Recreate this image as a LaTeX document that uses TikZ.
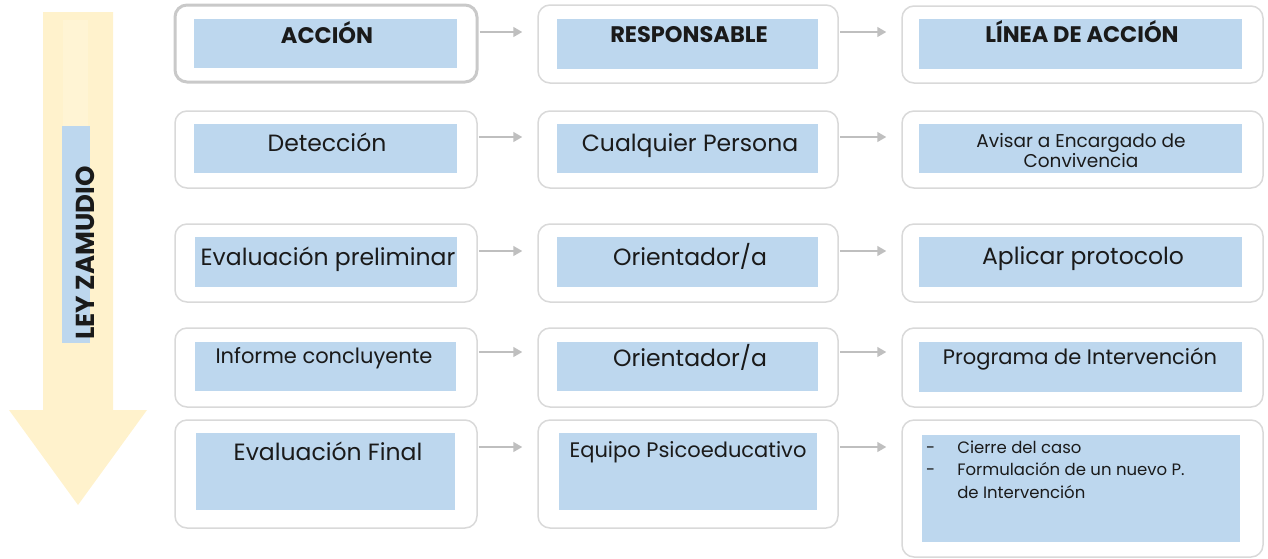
\documentclass[tikz,border=0pt]{standalone}
\usepackage{fontspec}
\setmainfont{Poppins}
\usetikzlibrary{fit,arrows.meta}
\definecolor{bluef}{HTML}{BDD7EE}
\definecolor{yelarr}{HTML}{FFF2CC}
\definecolor{yelstripe}{HTML}{FFF4D4}
\definecolor{boxgray}{HTML}{D9D9D9}
\definecolor{headgray}{HTML}{C9C9C9}
\definecolor{arrgray}{HTML}{BFBFBF}
\definecolor{txtc}{HTML}{1A1A1A}
\tikzset{
  outerbox/.style={draw=boxgray, line width=1.5pt, rounded corners=12pt, fill=white, inner sep=0pt},
  headbox/.style={outerbox, draw=headgray, line width=3pt},
  fillbox/.style={fill=bluef, inner sep=0pt},
  txt/.style={inner sep=0pt, text=txtc, align=center, anchor=base},
  big/.style={txt, font=\fontsize{23.5}{26}\selectfont},
  mid/.style={txt, font=\fontsize{21}{24}\selectfont},
  small/.style={txt, font=\fontsize{18.5}{20}\selectfont},
  list/.style={txt, font=\fontsize{16.5}{22.5}\selectfont},
  head/.style={txt, font=\fontsize{22.5}{26}\selectfont\bfseries},
  conn/.style={draw=arrgray, line width=1.5pt, shorten <=1pt, shorten >=15pt, -{Triangle[length=9pt,width=10pt]}},
}
\begin{document}
\begin{tikzpicture}[x=1pt,y=-1pt]
\useasboundingbox (0,0) rectangle (1268,558);

% big yellow arrow
\fill[yelarr] (43,12) -- (113,12) -- (113,410) -- (147,410) -- (78,505) -- (9,410) -- (43,410) -- cycle;
\fill[yelstripe] (63,20) rectangle (88,126);
\node[fillbox, fit={(62,126) (90,343)}] (lz) {};
\node[txt, rotate=90, font=\fontsize{26}{28}\selectfont\bfseries] (lzt) at (94,253) {LEY ZAMUDIO};

% outer boxes
\node[headbox,  fit={(175,5) (477,82)}] (o11) {};
\node[outerbox, fit={(538,5) (838,83)}] (o12) {};
\node[outerbox, fit={(902,6) (1263,83)}] (o13) {};
\node[outerbox, fit={(175,111) (477,188)}] (o21) {};
\node[outerbox, fit={(538,111) (838,188)}] (o22) {};
\node[outerbox, fit={(902,111) (1263,188)}] (o23) {};
\node[outerbox, fit={(175,224) (477,302)}] (o31) {};
\node[outerbox, fit={(538,224) (838,302)}] (o32) {};
\node[outerbox, fit={(902,224) (1263,302)}] (o33) {};
\node[outerbox, fit={(175,328) (477,407)}] (o41) {};
\node[outerbox, fit={(538,328) (838,407)}] (o42) {};
\node[outerbox, fit={(902,328) (1263,407)}] (o43) {};
\node[outerbox, fit={(175,420) (477,528)}] (o51) {};
\node[outerbox, fit={(538,420) (838,528)}] (o52) {};
\node[outerbox, fit={(902,420) (1263,557)}] (o53) {};

% blue fills
\node[fillbox, fit={(194,19) (457,68)}] (f11) {};
\node[fillbox, fit={(557,19) (818,69)}] (f12) {};
\node[fillbox, fit={(919,19) (1242,69)}] (f13) {};
\node[fillbox, fit={(194,124) (457,173)}] (f21) {};
\node[fillbox, fit={(557,124) (818,173)}] (f22) {};
\node[fillbox, fit={(919,124) (1242,173)}] (f23) {};
\node[fillbox, fit={(195,237) (457,287)}] (f31) {};
\node[fillbox, fit={(557,237) (818,287)}] (f32) {};
\node[fillbox, fit={(919,237) (1242,287)}] (f33) {};
\node[fillbox, fit={(195,342) (456,391)}] (f41) {};
\node[fillbox, fit={(557,342) (818,391)}] (f42) {};
\node[fillbox, fit={(919,342) (1242,392)}] (f43) {};
\node[fillbox, fit={(196,433) (455,510)}] (f51) {};
\node[fillbox, fit={(559,433) (817,510)}] (f52) {};
\node[fillbox, fit={(922,435) (1240,542)}] (f53) {};

% texts
\node[head] (t11) at (327,43) {ACCIÓN};
\node[head] (t12) at (689,42) {RESPONSABLE};
\node[head] (t13) at (1082,42) {LÍNEA DE ACCIÓN};

\node[big] (t21) at (327,151) {Detección};
\node[big] (t22) at (690,151) {Cualquier Persona};
\node[small] (t23) at (1081,167) {Avisar a Encargado de\\Convivencia};

\node[big] (t31) at (328,265) {Evaluación preliminar};
\node[big] (t32) at (690,265) {Orientador/a};
\node[big] (t33) at (1083,264) {Aplicar protocolo};

\node[mid] (t41) at (324,363) {Informe concluyente};
\node[big] (t42) at (690,366) {Orientador/a};
\node[mid] (t43) at (1080,364) {Programa de Intervención};

\node[big] (t51) at (328,460) {Evaluación Final};
\node[mid] (t52) at (688,457) {Equipo Psicoeducativo};
\node[list, align=left, anchor=base west] (t53) at (926,498) {%
  -\hspace{22pt}Cierre del caso\\
  -\hspace{22pt}Formulación de un nuevo P.\\
  \hphantom{-}\hspace{22pt}de Intervención};

% connectors
\draw[conn] (o11.east |- 0,32) -- (o12.west |- 0,32);
\draw[conn] (o12.east |- 0,32) -- (o13.west |- 0,32);
\draw[conn] (o21.east |- 0,137) -- (o22.west |- 0,137);
\draw[conn] (o22.east |- 0,137) -- (o23.west |- 0,137);
\draw[conn] (o31.east |- 0,251) -- (o32.west |- 0,251);
\draw[conn] (o32.east |- 0,251) -- (o33.west |- 0,251);
\draw[conn] (o41.east |- 0,352) -- (o42.west |- 0,352);
\draw[conn] (o42.east |- 0,352) -- (o43.west |- 0,352);
\draw[conn] (o51.east |- 0,447) -- (o52.west |- 0,447);
\draw[conn] (o52.east |- 0,447) -- (o53.west |- 0,447);
\end{tikzpicture}
\end{document}
